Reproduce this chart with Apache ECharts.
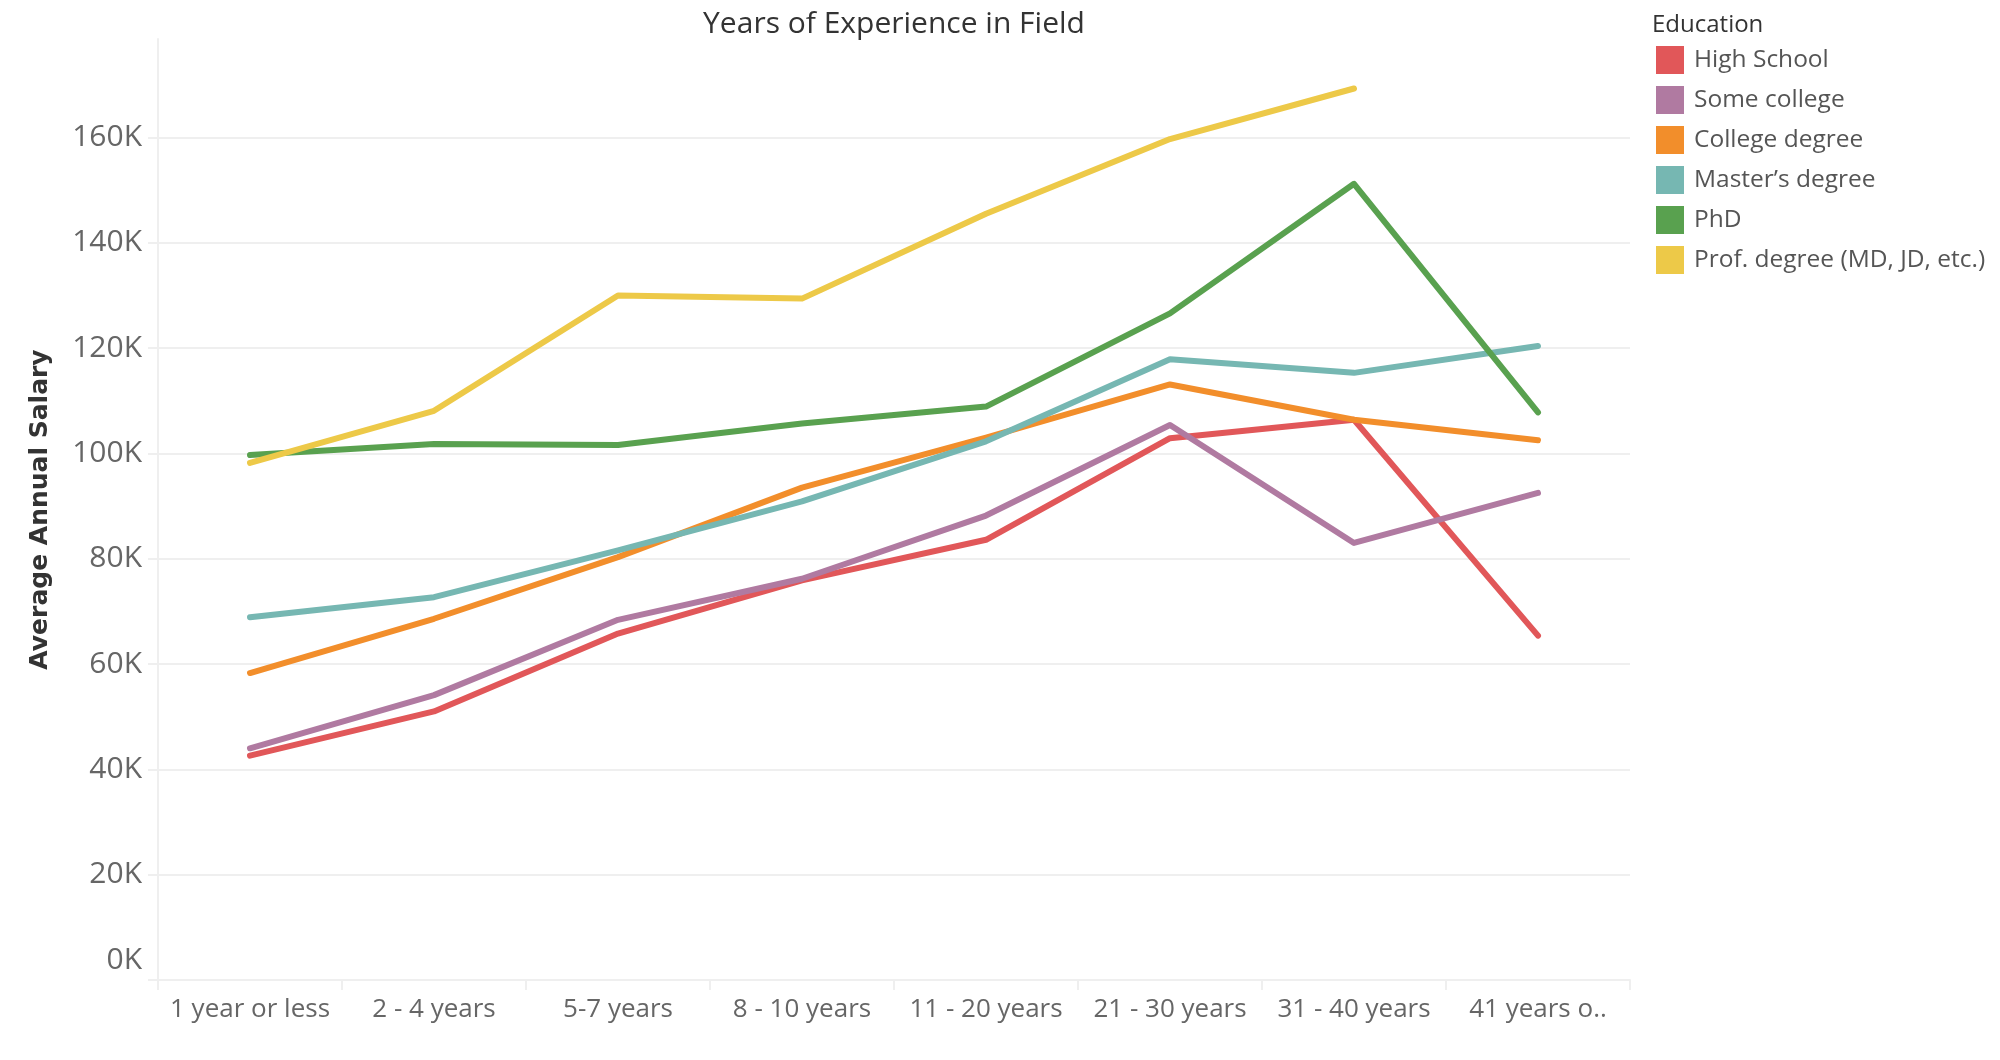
<!DOCTYPE html>
<html>
<head>
<meta charset="utf-8">
<script src="https://cdn.jsdelivr.net/npm/echarts@6/dist/echarts.min.js"></script>
<style>
html,body{margin:0;padding:0;background:#fff;}
#chart{width:2000px;height:1060px;}
</style>
</head>
<body>
<div id="chart"></div>
<script>
var categories = ['1 year or less', '2 - 4 years', '5-7 years', '8 - 10 years', '11 - 20 years', '21 - 30 years', '31 - 40 years', '41 years o..'];
var seriesNames = ['High School', 'Some college', 'College degree', 'Master\u2019s degree', 'PhD', 'Prof. degree (MD, JD, etc.)'];
var highSchool = [42600, 51000, 65800, 75900, 83600, 102900, 106400, 65400];
var someCollege = [44000, 54100, 68400, 76200, 88200, 105400, 83000, 92500];
var collegeDegree = [58300, 68600, 80300, 93500, 103000, 113100, 106400, 102500];
var mastersDegree = [68900, 72700, 81600, 90900, 102300, 117900, 115300, 120400];
var phd = [99700, 101800, 101600, 105700, 108900, 126600, 151200, 107800];
var profDegree = [98200, 108100, 130000, 129400, 145500, 159700, 169300, null];
var yTicks = [0, 20000, 40000, 60000, 80000, 100000, 120000, 140000, 160000];
var colors = ['#e15759', '#b07aa1', '#f28e2b', '#76b7b2', '#59a14f', '#edc948'];

var values = [highSchool, someCollege, collegeDegree, mastersDegree, phd, profDegree];
var FONT = "'Open Sans', 'Noto Sans', sans-serif";
var GRID = '#efefef';

var chart = echarts.init(document.getElementById('chart'), null, {renderer: 'canvas'});
var series = seriesNames.map(function (n, i) {
  return {
    name: n,
    type: 'line',
    data: values[i],
    showSymbol: false,
    symbol: 'none',
    connectNulls: false,
    lineStyle: {width: 6, color: colors[i], cap: 'round', join: 'round'},
    itemStyle: {color: colors[i]},
    emphasis: {disabled: true}
  };
});

chart.setOption({
  animation: false,
  backgroundColor: '#ffffff',
  color: colors,
  title: [
    {text: 'Years of Experience in Field', left: 894, top: 9, textAlign: 'center', padding: 0,
     textStyle: {fontFamily: FONT, fontSize: 30, fontWeight: 'normal', color: '#333333'}},
    {text: 'Education', left: 1652, top: 13, padding: 0,
     textStyle: {fontFamily: FONT, fontSize: 24, fontWeight: 'normal', color: '#333333'}}
  ],
  legend: {
    orient: 'vertical', left: 1656, top: 46, padding: 0,
    itemWidth: 28, itemHeight: 28, itemGap: 12, icon: 'rect',
    selectedMode: false,
    data: seriesNames,
    textStyle: {fontFamily: FONT, fontSize: 24.5, color: '#555555', padding: [0, 0, 0, 5]}
  },
  grid: {left: 158, right: 370, top: 39, bottom: 80},
  xAxis: {
    type: 'category',
    data: categories,
    boundaryGap: true,
    axisLine: {show: true, lineStyle: {color: GRID, width: 2}},
    axisTick: {show: true, length: 10, lineStyle: {color: GRID, width: 2}},
    axisLabel: {fontFamily: FONT, fontSize: 26, color: '#666666', margin: 17, lineHeight: 26, interval: 0},
    splitLine: {show: false}
  },
  yAxis: {
    type: 'value',
    min: 0, max: 178700, interval: 20000,
    name: 'Average Annual Salary',
    nameLocation: 'middle', nameRotate: 90, nameGap: 105,
    nameTextStyle: {fontFamily: "'DejaVu Sans', sans-serif", fontSize: 25, fontWeight: 'bold', color: '#333333'},
    axisLine: {show: true, lineStyle: {color: GRID, width: 2}},
    axisTick: {show: true, length: 10, lineStyle: {color: GRID, width: 2}, customValues: yTicks},
    axisLabel: {
      fontFamily: FONT, fontSize: 30, color: '#666666', margin: 16, lineHeight: 40,
      customValues: yTicks,
      formatter: function (v) { return v === 0 ? '0K\n ' : (v / 1000) + 'K'; }
    },
    splitLine: {show: true, lineStyle: {color: GRID, width: 2}}
  },
  series: series
});
</script>
</body>
</html>
